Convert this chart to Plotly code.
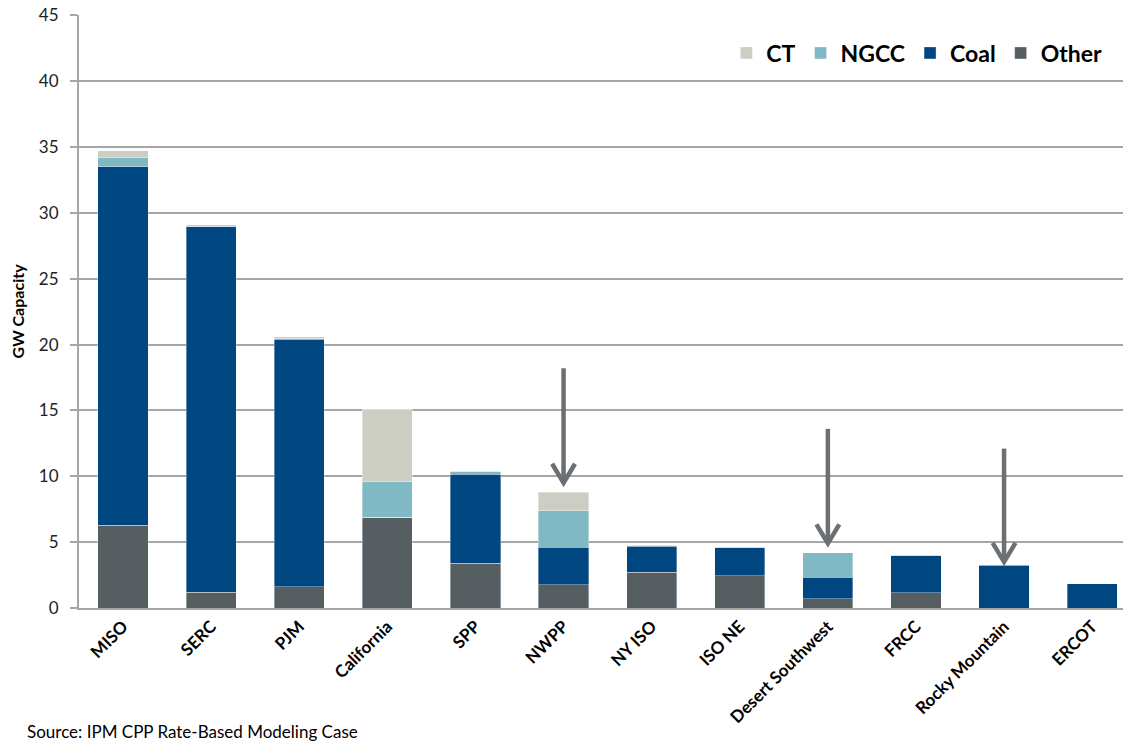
import plotly.graph_objects as go

regions = ["MISO", "SERC", "PJM", "California", "SPP", "NWPP", "NY ISO", "ISO NE",
           "Desert Southwest", "FRCC", "Rocky Mountain", "ERCOT"]
other = [6.3, 1.2, 1.6, 6.9, 3.4, 1.75, 2.7, 2.45, 0.7, 1.15, 0.0, 0.0]
coal = [27.2, 27.8, 18.8, 0.0, 6.75, 2.85, 2.0, 2.15, 1.65, 2.85, 3.25, 1.85]
ngcc = [0.7, 0.0, 0.05, 2.7, 0.25, 2.8, 0.05, 0.0, 1.85, 0.0, 0.05, 0.0]
ct = [0.5, 0.1, 0.15, 5.5, 0.0, 1.4, 0.0, 0.05, 0.0, 0.05, 0.0, 0.0]

# arrows: (region, start value, tip value)
arrow_regions = ["NWPP", "Desert Southwest", "Rocky Mountain"]
arrow_start = [18.2, 13.6, 12.1]
arrow_tip = [9.5, 4.9, 3.5]

y_ticks = [0, 5, 10, 15, 20, 25, 30, 35, 40, 45]

series = [("Other", other, "#575e62"), ("Coal", coal, "#004680"),
          ("NGCC", ngcc, "#80b9c3"), ("CT", ct, "#cccdc3")]

FONT = "Lato"
fig = go.Figure()
for name, vals, col in series:
    fig.add_trace(go.Bar(x=regions, y=vals, name=name, marker_color=col,
                         marker_line=dict(color="rgba(255,255,255,0.6)", width=0.6),
                         width=0.57))

shapes = []
acol = "#6b7075"
for r, y0, y1 in zip(arrow_regions, arrow_start, arrow_tip):
    xi = regions.index(r)
    shapes.append(dict(type="line", xref="x", yref="y", x0=xi, x1=xi, y0=y0, y1=y1 + 0.1,
                       line=dict(color=acol, width=4.5)))
    shapes.append(dict(type="path", xref="x", yref="y",
                       path=f"M {xi-0.13},{y1+1.45} L {xi},{y1} L {xi+0.13},{y1+1.45}",
                       line=dict(color=acol, width=4.5)))

fig.update_layout(
    width=1123, height=742,
    margin=dict(l=79, r=0, t=15, b=134),
    barmode="stack",
    plot_bgcolor="white", paper_bgcolor="white",
    font=dict(family=FONT, color="#000000"),
    bargap=0.43,
    shapes=shapes,
    legend=dict(orientation="h", traceorder="reversed", x=0.985, xanchor="right",
                y=0.936, yanchor="middle", font=dict(size=23, family=FONT, weight="bold"),
                bgcolor="rgba(0,0,0,0)"),
    xaxis=dict(range=[-0.5, 11.35], tickangle=-45, showline=True, linecolor="#a6a6a6",
               linewidth=2, ticks="", automargin=False,
               tickfont=dict(size=17, family=FONT, weight="bold")),
    yaxis=dict(range=[0, 45.02], tickmode="array", tickvals=y_ticks,
               ticktext=[str(v) for v in y_ticks], ticklabeloverflow="allow",
               automargin=False,
               showgrid=True, gridcolor="#a6a6a6", gridwidth=1.5,
               showline=True, linecolor="#a6a6a6", linewidth=2, ticks="outside",
               ticklen=7, tickcolor="#a6a6a6", tickwidth=1.5, ticklabelstandoff=8,
               tickfont=dict(size=17, family=FONT, color="#222222"),
               title=dict(text="GW Capacity", font=dict(size=16, family=FONT, weight="bold"),
                          standoff=10)),
    annotations=[dict(text="Source: IPM CPP Rate-Based Modeling Case", xref="paper",
                      yref="paper", x=-54/1044, y=-124/593, xanchor="left",
                      yanchor="middle", showarrow=False, font=dict(size=17, family=FONT))],
)
fig.write_html("out.html", config={"displayModeBar": False},
               post_script="document.body.style.margin='0px';")
